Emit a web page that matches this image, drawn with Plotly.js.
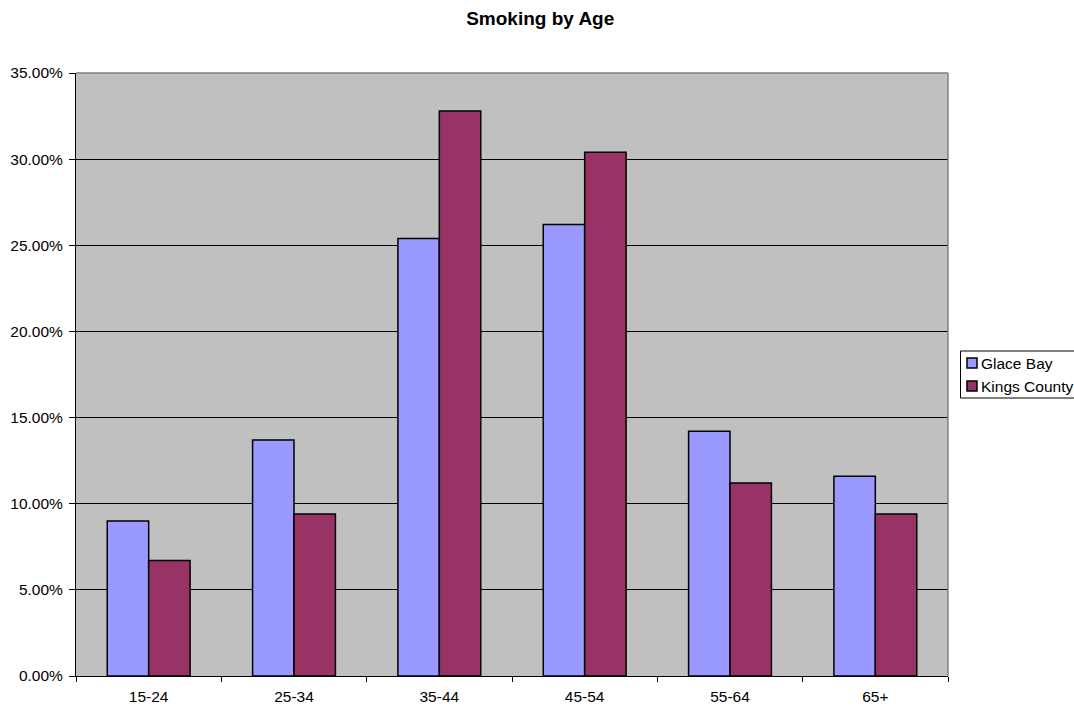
<!DOCTYPE html>
<html>
<head>
<meta charset="utf-8">
<script src="https://cdn.plot.ly/plotly-3.0.1.min.js"></script>
<style>html,body{margin:0;padding:0;background:#fff;overflow:hidden;}#chart{width:1074px;height:708px;}</style>
</head>
<body>
<div id="chart"></div>
<script>
const categories = ["15-24", "25-34", "35-44", "45-54", "55-64", "65+"];
const glaceBay = [0.090, 0.137, 0.254, 0.262, 0.142, 0.116];
const kingsCounty = [0.067, 0.094, 0.328, 0.304, 0.112, 0.094];
const seriesNames = ["Glace Bay", "Kings County"];
const seriesColors = ["#9999FF", "#993366"];
const yTicks = [0, 0.05, 0.10, 0.15, 0.20, 0.25, 0.30, 0.35];

const fam = "Liberation Sans, Arial, sans-serif";
const seriesValues = [glaceBay, kingsCounty];

const traces = seriesValues.map((vals, i) => ({
  type: "bar", name: seriesNames[i], x: categories, y: vals,
  marker: {color: seriesColors[i], line: {color: "#000", width: 1.5}}
}));

// plot area in pixels: left 76, right 948, top 73, bottom 676
const L = 76, W = 872, T = 73, H = 603;
const px = x => (x - L) / W;
const py = y => (T + H - y) / H;

const shapes = [
  {type: "line", xref: "paper", yref: "paper", x0: 0, x1: 1, y0: 1, y1: 1, line: {color: "#808080", width: 1.5}, layer: "above"},
  {type: "line", xref: "paper", yref: "paper", x0: 1, x1: 1, y0: 0, y1: 1, line: {color: "#808080", width: 1.5}, layer: "above"},
  // legend box
  {type: "rect", xref: "paper", yref: "paper", x0: px(960.5), x1: px(1090), y0: py(398), y1: py(351),
   line: {color: "#000", width: 1}, fillcolor: "#fff", layer: "above"}
];
const annotations = [];
const rowY = [363, 386];
seriesNames.forEach((name, i) => {
  shapes.push({type: "rect", xref: "paper", yref: "paper",
    x0: px(967), x1: px(977), y0: py(rowY[i] + 5), y1: py(rowY[i] - 5),
    line: {color: "#000", width: 1.5}, fillcolor: seriesColors[i], layer: "above"});
  annotations.push({xref: "paper", yref: "paper", x: px(979), y: py(rowY[i]), xanchor: "left", yanchor: "middle",
    text: name, showarrow: false, font: {family: fam, size: 15.5, color: "#000"}});
});

const layout = {
  width: 1074, height: 708,
  margin: {l: L, r: 1074 - L - W, t: T, b: 708 - T - H, pad: 0, autoexpand: false},
  paper_bgcolor: "#fff",
  plot_bgcolor: "#C0C0C0",
  font: {family: fam, size: 15, color: "#000"},
  title: {text: "<b>Smoking by Age</b>", font: {family: fam, size: 19, color: "#000"},
          xref: "container", x: 0.503, xanchor: "center", yref: "container", y: 0.984, yanchor: "top"},
  barmode: "group",
  bargap: 0.43,
  bargroupgap: 0,
  showlegend: false,
  xaxis: {type: "category", showline: true, linecolor: "#000", linewidth: 1,
          ticks: "outside", tickson: "boundaries", ticklen: 5, tickcolor: "#000",
          ticklabelstandoff: 6,
          showgrid: false, tickfont: {family: fam, size: 15.5, color: "#000"}, fixedrange: true},
  yaxis: {range: [0, 0.35], tickvals: yTicks, tickformat: ".2%",
          showline: true, linecolor: "#000", linewidth: 1,
          ticks: "outside", ticklen: 6, tickcolor: "#000", ticklabelstandoff: 3,
          showgrid: true, gridcolor: "#000", gridwidth: 1, zeroline: false,
          tickfont: {family: fam, size: 15.5, color: "#000"}, fixedrange: true},
  shapes: shapes,
  annotations: annotations
};

Plotly.newPlot("chart", traces, layout, {displayModeBar: false, staticPlot: true});
</script>
</body>
</html>
